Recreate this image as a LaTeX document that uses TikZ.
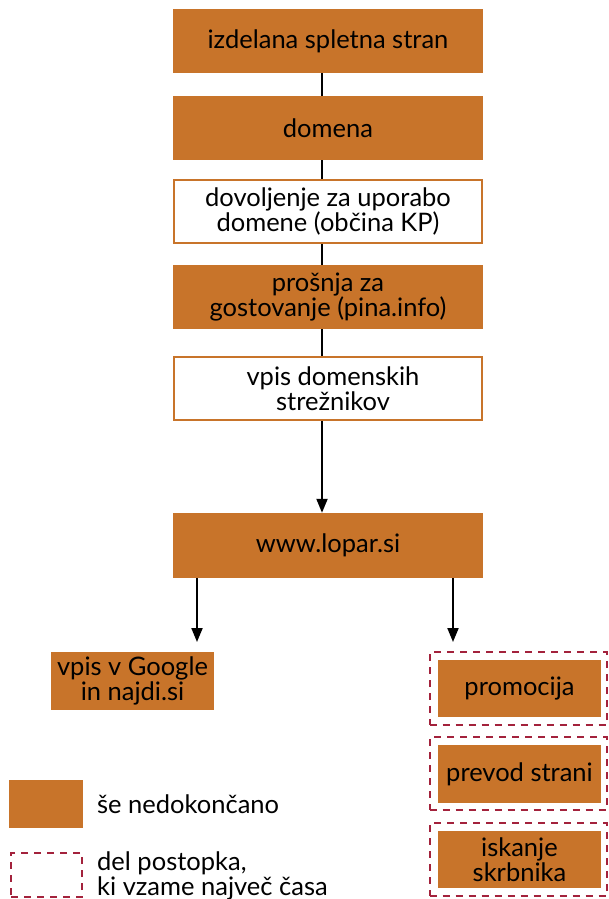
\documentclass[tikz,border=0pt]{standalone}
\usepackage{fontspec}
\setmainfont{Lato}
\usetikzlibrary{arrows.meta}
\definecolor{boxorange}{HTML}{C8742A}
\definecolor{dashred}{HTML}{A3223C}
\begin{document}
\begin{tikzpicture}[x=1pt,y=-1pt,
  txt/.style={font=\fontsize{25.5}{25.5}\selectfont,align=center,text=black,inner sep=0pt},
  filled/.style={txt,rectangle,fill=boxorange,minimum width=310pt,minimum height=64pt},
  open/.style={txt,rectangle,draw=boxorange,line width=2pt,fill=white,minimum width=308pt,minimum height=63pt},
  smallfill/.style={txt,rectangle,fill=boxorange,minimum width=163pt,minimum height=57pt},
  dashbox/.style={rectangle,draw=dashred,line width=2pt,dash pattern=on 7pt off 6pt,inner sep=0pt},
  conn/.style={draw=black,line width=2pt},
  arr/.style={conn,-{Triangle[width=11pt,length=14pt]}}]
\useasboundingbox (0,0) rectangle (608,899);
% main chain
\node[filled] (b1) at (328,41) {izdelana spletna stran};
\node[filled] (b2) at (328,128) {domena};
\node[open]   (b3) at (328,211.5) {dovoljenje za uporabo\\domene (občina KP)};
\node[filled] (b4) at (328,297) {prošnja za\\gostovanje (pina.info)};
\node[open]   (b5) at (328,388.5) {\hspace*{10pt}vpis domenskih\\\hspace*{10pt}strežnikov};
\node[filled,minimum height=65pt] (b6) at (328,545.5) {www.lopar.si};
% branches
\node[smallfill,minimum height=58pt] (g) at (132.5,681) {vpis v Google\\in najdi.si};
\node[dashbox,minimum width=177pt,minimum height=73pt] (d1) at (518,688.5) {};
\node[dashbox,minimum width=177pt,minimum height=73pt] (d2) at (518,773.5) {};
\node[dashbox,minimum width=177pt,minimum height=73pt] (d3) at (518,859.5) {};
\node[smallfill] (p1) at (519.5,688.5) {promocija};
\node[smallfill,minimum height=58pt] (p2) at (519.5,774) {prevod strani};
\node[smallfill] (p3) at (519.5,859.5) {iskanje\\skrbnika};
% legend
\node[rectangle,fill=boxorange,minimum width=74pt,minimum height=48pt,inner sep=0pt] (l1) at (46,804) {};
\node[txt,anchor=west] (l1t) at (97,804) {še nedokončano};
\node[dashbox,minimum width=71pt,minimum height=44pt] (l2) at (46.5,875) {};
\node[txt,anchor=west,align=left] (l2t) at (97,876) {del postopka,\\ki vzame največ časa};
% connectors
\draw[conn] ([xshift=-6pt]b1.south) -- ([xshift=-6pt]b2.north);
\draw[conn] ([xshift=-6pt]b2.south) -- ([xshift=-6pt]b3.north);
\draw[conn] ([xshift=-6pt]b3.south) -- ([xshift=-6pt]b4.north);
\draw[conn] ([xshift=-6pt]b4.south) -- ([xshift=-6pt]b5.north);
\draw[arr] ([xshift=-6pt]b5.south) -- ([xshift=-6pt]b6.north);
\coordinate (lt) at (197,642);
\coordinate (rt) at (453,642);
\draw[arr] (b6.south -| lt) -- (lt);
\draw[arr] (b6.south -| rt) -- (rt);
\end{tikzpicture}
\end{document}
